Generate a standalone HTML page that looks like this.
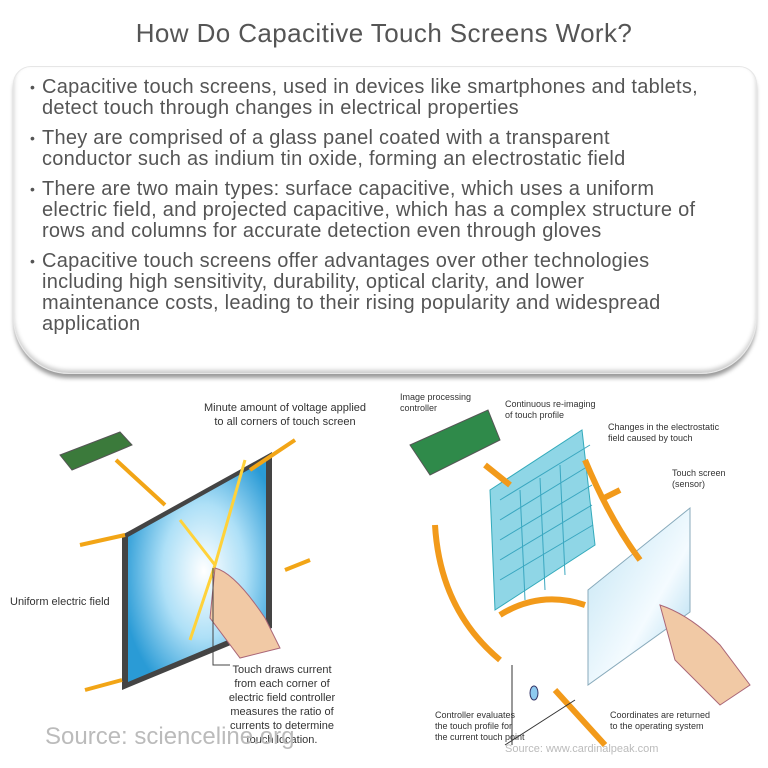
<!DOCTYPE html>
<html><head><meta charset="utf-8"><style>
body{margin:0;width:768px;height:768px;background:#fff;overflow:hidden;font-family:"Liberation Sans",sans-serif;position:relative}
.title{position:absolute;top:18px;left:0;width:768px;text-align:center;font-size:26px;letter-spacing:0.4px;color:#555}
.card{position:absolute;left:13px;top:66px;width:742px;height:306px;border-radius:18px 18px 56px 56px;background:#fff;box-shadow:0 5px 4px -1px #999,inset 0 -3px 4px #ccc;border:1px solid #e6e6e6}
ul{position:absolute;left:28px;top:77px;margin:0;padding:0 0 0 14px;width:730px;font-size:20px;letter-spacing:0.25px;line-height:21px;color:#555;list-style:none;white-space:nowrap}
li{margin-bottom:9px;position:relative}
li:before{content:"•";position:absolute;left:-12px;font-size:14px}
svg{position:absolute;left:0;top:380px}
</style></head><body>
<div class="title">How Do Capacitive Touch Screens Work?</div>
<div class="card"></div>
<ul>
<li>Capacitive touch screens, used in devices like smartphones and tablets,<br>detect touch through changes in electrical properties</li>
<li>They are comprised of a glass panel coated with a transparent<br>conductor such as indium tin oxide, forming an electrostatic field</li>
<li>There are two main types: surface capacitive, which uses a uniform<br>electric field, and projected capacitive, which has a complex structure of<br>rows and columns for accurate detection even through gloves</li>
<li>Capacitive touch screens offer advantages over other technologies<br>including high sensitivity, durability, optical clarity, and lower<br>maintenance costs, leading to their rising popularity and widespread<br>application</li>
</ul>
<svg width="768" height="388" viewBox="0 380 768 388">
<defs>
<radialGradient id="g1" cx="0.55" cy="0.5" r="0.6"><stop offset="0" stop-color="#fff"/><stop offset="0.5" stop-color="#aee0f7"/><stop offset="1" stop-color="#2a9bd6"/></radialGradient>
<linearGradient id="g2" x1="0" y1="0" x2="1" y2="1"><stop offset="0" stop-color="#bfe3f3"/><stop offset="0.6" stop-color="#f4fbff"/><stop offset="1" stop-color="#9fd3ec"/></linearGradient>
</defs>
<g font-family="Liberation Sans,sans-serif" fill="#333">
<text x="285" y="411" font-size="11" text-anchor="middle">Minute amount of voltage applied</text>
<text x="285" y="425" font-size="11" text-anchor="middle">to all corners of touch screen</text>
<polygon points="60,455 120,432 132,445 72,470" fill="#3b7a3b" stroke="#555"/>
<polygon points="122,535 272,452 272,628 122,690" fill="#444"/>
<polygon points="128,537 266,460 266,624 128,682" fill="url(#g1)"/>
<path d="M116,460 L165,505 M250,470 L295,440 M80,545 L125,535 M285,570 L310,560 M85,690 L122,680" stroke="#f2a516" stroke-width="4"/>
<path d="M180,520 L215,565 L245,460 M215,565 L190,640" stroke="#ffd23a" stroke-width="3" fill="none"/>
<path d="M215,568 q20,5 50,50 l15,30 l-40,10 l-30,-40z" fill="#f1c9a5" stroke="#a67" stroke-width="1"/>
<path d="M213,568 V665 H230" stroke="#444" fill="none"/>
<text x="10" y="605" font-size="11">Uniform electric field</text>
<g font-size="11" text-anchor="middle"><text x="282" y="673">Touch draws current</text><text x="282" y="687">from each corner of</text><text x="282" y="701">electric field controller</text><text x="282" y="715">measures the ratio of</text><text x="282" y="729">currents to determine</text><text x="282" y="743">touch location.</text></g>
<text x="45" y="744" font-size="24" fill="#bbb">Source: scienceline.org</text>
<text x="400" y="400" font-size="9">Image processing</text><text x="400" y="411" font-size="9">controller</text>
<text x="505" y="407" font-size="9">Continuous re-imaging</text><text x="505" y="418" font-size="9">of touch profile</text>
<text x="608" y="430" font-size="9">Changes in the electrostatic</text><text x="608" y="441" font-size="9">field caused by touch</text>
<text x="672" y="476" font-size="9">Touch screen</text><text x="672" y="487" font-size="9">(sensor)</text>
<polygon points="410,445 488,410 500,440 430,475" fill="#2f8a4a" stroke="#555"/>
<polygon points="490,490 582,430 595,545 495,610" fill="#8fd6e6" stroke="#3ab" />
<path d="M500,500 L590,445 M500,520 L590,465 M500,540 L592,485 M500,560 L592,505 M500,580 L593,525 M520,490 L525,600 M540,478 L545,590 M560,465 L565,575" stroke="#3aa7c0" stroke-width="1"/>
<polygon points="588,590 690,508 690,612 588,685" fill="url(#g2)" stroke="#8ab"/>
<path d="M660,605 q30,10 60,40 l30,40 l-30,20 l-45,-45z" fill="#f1c9a5" stroke="#a67"/>
<path d="M585,460 Q610,520 640,560 M510,485 L485,465 M600,500 L620,490 M500,615 Q540,590 585,605 M435,525 Q440,610 500,660 M555,690 L605,745" stroke="#f29a1a" stroke-width="6" fill="none"/>
<path d="M512,665 V745 M505,745 L575,700" stroke="#333" fill="none"/>
<ellipse cx="534" cy="693" rx="4" ry="7" fill="#8ecaf0" stroke="#336"/>
<g font-size="9"><text x="435" y="718">Controller evaluates</text><text x="435" y="729">the touch profile for</text><text x="435" y="740">the current touch point</text>
<text x="610" y="718">Coordinates are returned</text><text x="610" y="729">to the operating system</text></g>
<text x="505" y="752" font-size="11" fill="#bbb">Source: www.cardinalpeak.com</text>
</g>
</svg>
</body></html>
